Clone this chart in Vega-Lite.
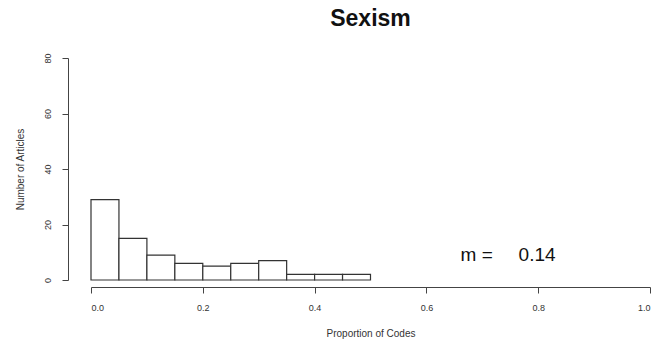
{
  "$schema": "https://vega.github.io/schema/vega-lite/v6.json",
  "width": 559,
  "height": 222,
  "autosize": {"type": "none"},
  "padding": {"left": 91, "top": 58, "right": 8, "bottom": 67},
  "background": "white",
  "config": {
    "view": {"stroke": null},
    "font": "Liberation Sans",
    "axis": {"grid": false, "domainColor": "#444", "tickColor": "#444", "labelColor": "#333", "titleColor": "#333", "labelFontSize": 9, "titleFontSize": 10, "titleFontWeight": "normal", "tickSize": 6, "domainWidth": 1, "tickWidth": 1}
  },
  "title": {"text": "Sexism", "fontSize": 23, "fontWeight": "bold", "color": "#111", "anchor": "middle", "frame": "group", "offset": 22, "font": "Liberation Sans"},
  "layer": [
    {
      "data": {"values": [
        {"start": 0.00, "end": 0.05, "count": 29},
        {"start": 0.05, "end": 0.10, "count": 15},
        {"start": 0.10, "end": 0.15, "count": 9},
        {"start": 0.15, "end": 0.20, "count": 6},
        {"start": 0.20, "end": 0.25, "count": 5},
        {"start": 0.25, "end": 0.30, "count": 6},
        {"start": 0.30, "end": 0.35, "count": 7},
        {"start": 0.35, "end": 0.40, "count": 2},
        {"start": 0.40, "end": 0.45, "count": 2},
        {"start": 0.45, "end": 0.50, "count": 2}
      ]},
      "mark": {"type": "rect", "fill": "white", "stroke": "#333", "strokeWidth": 1.2},
      "encoding": {
        "x": {"field": "start", "type": "quantitative", "scale": {"domain": [0, 1], "nice": false, "zero": false},
          "axis": {"values": [0, 0.2, 0.4, 0.6, 0.8, 1.0], "format": ".1f", "offset": 7, "title": "Proportion of Codes", "titlePadding": 16, "labelPadding": 10}},
        "x2": {"field": "end"},
        "y": {"field": "count", "type": "quantitative", "scale": {"domain": [0, 80], "nice": false},
          "axis": {"values": [0, 20, 40, 60, 80], "offset": 23, "labelAngle": 270, "labelAlign": "center", "labelBaseline": "bottom", "labelPadding": 10, "title": "Number of Articles", "titlePadding": 18}},
        "y2": {"datum": 0}
      }
    },
    {
      "data": {"values": [
        {"label": "m =", "xpos": 0.69, "ypos": 9},
        {"label": "0.14", "xpos": 0.798, "ypos": 9}
      ]},
      "mark": {"type": "text", "fontSize": 19, "color": "#111", "align": "center", "baseline": "middle", "font": "Liberation Sans"},
      "encoding": {
        "x": {"field": "xpos", "type": "quantitative"},
        "y": {"field": "ypos", "type": "quantitative"},
        "text": {"field": "label"}
      }
    }
  ]
}
